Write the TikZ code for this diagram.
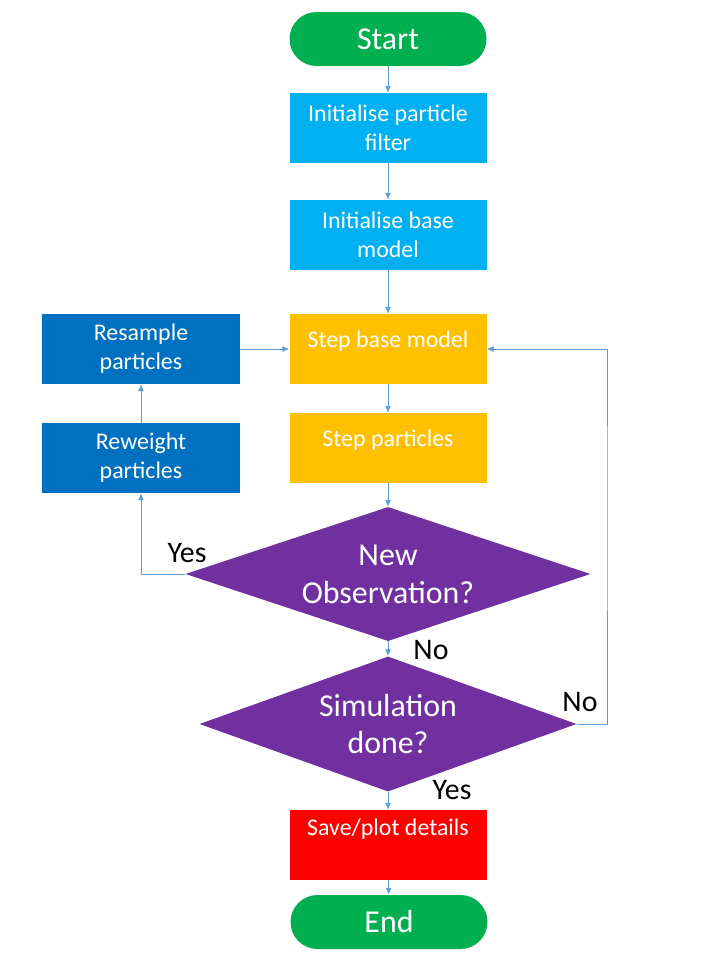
\documentclass[tikz,border=0pt]{standalone}
\usepackage{fontspec}
\setmainfont{Carlito}
\usetikzlibrary{shapes.geometric,arrows.meta,positioning}
\definecolor{termgreen}{HTML}{00B050}
\definecolor{initblue}{HTML}{00B0F0}
\definecolor{pfblue}{HTML}{0070C0}
\definecolor{stepamber}{HTML}{FFC000}
\definecolor{askpurple}{HTML}{7030A0}
\definecolor{savered}{HTML}{FF0000}
\definecolor{flowline}{HTML}{5B9BD5}

\begin{document}
\begin{tikzpicture}[x=1bp,y=-1bp,
    proc/.style={rectangle,minimum width=197bp,minimum height=70bp,inner sep=0pt,
        text=white,align=center,font=\fontsize{24}{29}\selectfont},
    term/.style={rectangle,rounded corners=27bp,fill=termgreen,minimum width=197bp,
        minimum height=54bp,text=white,font=\fontsize{32}{36}\selectfont},
    ask/.style={diamond,fill=askpurple,inner sep=0pt},
    txt/.style={text=white,align=center,font=\fontsize{24}{29}\selectfont},
    asktxt/.style={text=white,align=center,font=\fontsize{32}{38}\selectfont},
    ans/.style={text=black,font=\fontsize{30}{34}\selectfont,inner sep=0pt},
    flow/.style={draw=flowline,line width=0.9bp,-{Latex[length=7bp,width=6bp]}}]
    \useasboundingbox (0,0) rectangle (720,960);
    % main column
    \node[term] (start) at (388,39) {Start};
    \node[proc,fill=initblue] (initpf) at (388,128) {Initialise particle\\filter};
    \node[proc,fill=initblue] (initbm) at (388,235) {Initialise base\\model};
    \node[proc,fill=stepamber,label={[txt,yshift=8bp]center:Step base model}] (stepbm) at (388,349) {};
    \node[proc,fill=stepamber,label={[txt,yshift=8bp]center:Step particles}] (steppt) at (388,448) {};
    \node[ask,minimum width=405bp,minimum height=134bp,
        label={[asktxt]center:{New\\Observation?}}] (newobs) at (388,574) {};
    \node[ask,minimum width=377bp,minimum height=135bp,
        label={[asktxt]center:{Simulation\\done?}}] (simdone) at (388,724) {};
    \node[proc,fill=savered,label={[txt,yshift=16bp]center:Save/plot details}] (save) at (388,845) {};
    \node[term] (end) at (389,922) {End};
    % particle filter update
    \node[proc,fill=pfblue] (resample) at (141,349) {Resample\\particles};
    \node[proc,fill=pfblue] (reweight) at (141,458) {Reweight\\particles};
    \coordinate (loop) at (607,500);
    % answers
    \node[ans] (yes1) at (187,553) {Yes};
    \node[ans] (no1) at (431,650) {No};
    \node[ans] (no2) at (580,702) {No};
    \node[ans] (yes2) at (452,790) {Yes};
    % connectors
    \draw[flow] (start) -- (initpf);
    \draw[flow] (initpf) -- (initbm);
    \draw[flow] (initbm) -- (stepbm);
    \draw[flow] (stepbm) -- (steppt);
    \draw[flow] (steppt) -- (newobs);
    \draw[flow] (newobs) -- (simdone);
    \draw[flow] (simdone) -- (save);
    \draw[flow] (save) -- (end);
    \draw[flow] (newobs.west) -| (reweight);
    \draw[flow] (reweight) -- (resample);
    \draw[flow] (resample) -- (stepbm);
    \draw[flow] (simdone.east) -| (loop) |- (stepbm);
\end{tikzpicture}
\end{document}
